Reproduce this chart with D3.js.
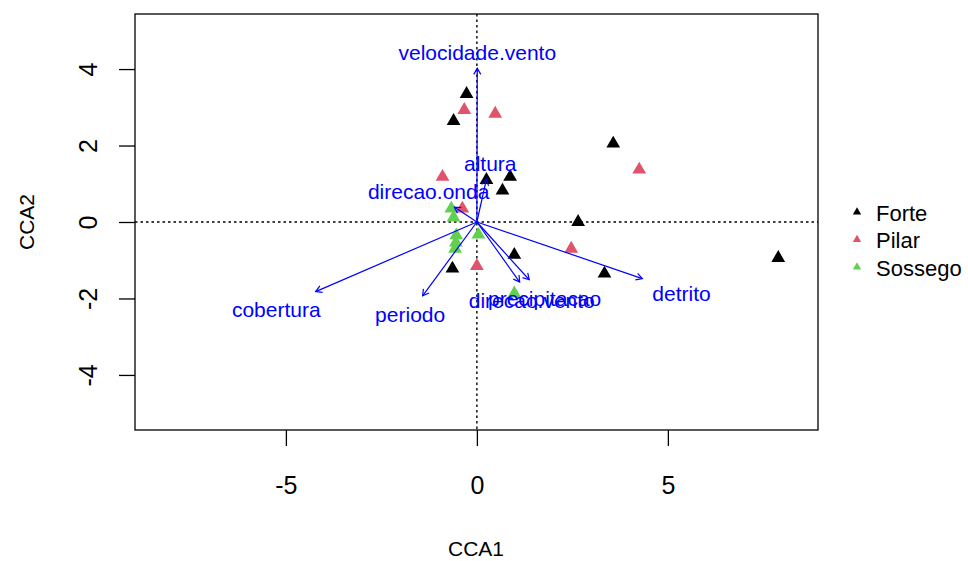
<!DOCTYPE html>
<html>
<head>
<meta charset="utf-8">
<script src="https://cdn.jsdelivr.net/npm/d3@7"></script>
<style>
  html, body { margin: 0; padding: 0; background: #fff; }
  svg { display: block; font-family: "Liberation Sans", Arial, sans-serif; }
</style>
</head>
<body>
<svg id="chart" width="968" height="561"></svg>
<script>
// ---------- data ----------
const groups = ["Forte", "Pilar", "Sossego"];
const groupColors = ["#000000", "#DF536B", "#61D04F"];

const forteX = [-0.27, -0.61, 3.57, 0.25, 0.87, 0.67, 2.65, 0.98, -0.64, 3.34, 7.89];
const forteY = [3.35, 2.64, 2.05, 1.10, 1.18, 0.82, 0.00, -0.86, -1.22, -1.35, -0.94];

const pilarX = [-0.33, 0.48, 4.25, -0.90, -0.38, 2.47, 0.00];
const pilarY = [2.93, 2.83, 1.37, 1.18, 0.35, -0.70, -1.15];

const sossegoX = [-0.67, -0.61, -0.54, -0.55, -0.57, 0.04, 0.98];
const sossegoY = [0.35, 0.12, -0.35, -0.54, -0.70, -0.33, -1.87];

const envNames = ["velocidade.vento", "altura", "direcao.onda", "cobertura", "periodo", "direcao.vento", "precipitacao", "detrito"];
const envX = [0.01, 0.25, -0.59, -4.22, -1.42, 1.12, 1.37, 4.33];
const envY = [4.02, 1.12, 0.39, -1.82, -1.93, -1.57, -1.51, -1.48];

const xTicks = [-5, 0, 5];
const yTicks = [-4, -2, 0, 2, 4];
const xTitle = "CCA1";
const yTitle = "CCA2";

// ---------- layout ----------
const svg = d3.select("#chart");
const box = { left: 135, right: 818, top: 14, bottom: 430 };

const x = d3.scaleLinear().domain([-8.95, 8.93]).range([box.left, box.right]);
const y = d3.scaleLinear().domain([-5.44, 5.44]).range([box.bottom, box.top]);
const fmt = d => String(d);

// reference dotted lines
svg.append("line")
  .attr("x1", box.left).attr("x2", box.right)
  .attr("y1", y(0)).attr("y2", y(0))
  .attr("stroke", "#000").attr("stroke-width", 1.4)
  .attr("stroke-dasharray", "2.5,3");
svg.append("line")
  .attr("x1", x(0)).attr("x2", x(0))
  .attr("y1", box.top).attr("y2", box.bottom)
  .attr("stroke", "#000").attr("stroke-width", 1.4)
  .attr("stroke-dasharray", "2.5,3");

// points
const sites = [];
[[forteX, forteY], [pilarX, pilarY], [sossegoX, sossegoY]].forEach((arr, gi) => {
  arr[0].forEach((vx, i) => sites.push({ g: gi, x: vx, y: arr[1][i] }));
});

const tri = d3.symbol().type(d3.symbolTriangle).size(82);
svg.append("g").selectAll("path")
  .data(sites)
  .join("path")
  .attr("d", tri)
  .attr("transform", d => `translate(${x(d.x)},${y(d.y)})`)
  .attr("fill", d => groupColors[d.g]);

// biplot arrows
const env = envNames.map((n, i) => ({ name: n, x: envX[i], y: envY[i] }));
const ox = x(0), oy = y(0);
const ag = svg.append("g").attr("stroke", "#0000FF").attr("stroke-width", 1.2).attr("fill", "none");
env.forEach(d => {
  const tx = x(d.x), ty = y(d.y);
  const ang = Math.atan2(ty - oy, tx - ox);
  const L = 7, a = Math.PI / 6;
  ag.append("line").attr("x1", ox).attr("y1", oy).attr("x2", tx).attr("y2", ty);
  ag.append("path").attr("d",
    `M${tx - L * Math.cos(ang - a)},${ty - L * Math.sin(ang - a)}L${tx},${ty}L${tx - L * Math.cos(ang + a)},${ty - L * Math.sin(ang + a)}`);
});

// arrow labels: placed beyond arrow head so the label box touches it
const lg = svg.append("g").attr("fill", "#0000FF").attr("font-size", "21px");
env.forEach(d => {
  const t = lg.append("text").text(d.name).attr("text-anchor", "middle").attr("dy", "0.35em");
  const w = t.node().getComputedTextLength();
  const dx = x(d.x) - ox, dy = y(d.y) - oy;
  const hw = w / 2 + 10, hh = 17;
  const k = Math.min(Math.abs(dx) > 1e-6 ? hw / Math.abs(dx) : Infinity,
                     Math.abs(dy) > 1e-6 ? hh / Math.abs(dy) : Infinity);
  t.attr("x", ox + dx * (1 + k)).attr("y", oy + dy * (1 + k) + 1.5);
});

// box
svg.append("rect")
  .attr("x", box.left).attr("y", box.top)
  .attr("width", box.right - box.left).attr("height", box.bottom - box.top)
  .attr("fill", "none").attr("stroke", "#000").attr("stroke-width", 1.3);

// axes
const xAxis = svg.append("g")
  .attr("transform", `translate(0,${box.bottom})`)
  .call(d3.axisBottom(x).tickValues(xTicks).tickSize(16).tickPadding(30).tickFormat(fmt));
xAxis.select(".domain").remove();
xAxis.selectAll("line").attr("stroke", "#000").attr("stroke-width", 1.3);
xAxis.selectAll("text").attr("font-size", "25px").attr("fill", "#000")
  .attr("font-family", "'Liberation Sans', Arial, sans-serif");

const yAxis = svg.append("g")
  .attr("transform", `translate(${box.left},0)`)
  .call(d3.axisLeft(y).tickValues(yTicks).tickSize(16).tickFormat(fmt));
yAxis.select(".domain").remove();
yAxis.selectAll("line").attr("stroke", "#000").attr("stroke-width", 1.3);
yAxis.selectAll("text")
  .attr("font-size", "25px").attr("fill", "#000")
  .attr("font-family", "'Liberation Sans', Arial, sans-serif")
  .attr("text-anchor", "middle")
  .attr("x", 0).attr("y", 0).attr("dy", "0.35em")
  .attr("transform", `translate(${88 - box.left},0) rotate(-90)`);

// axis titles
svg.append("text").text(xTitle)
  .attr("x", 476).attr("y", 549).attr("dy", "0.35em")
  .attr("text-anchor", "middle").attr("font-size", "21px").attr("fill", "#000");
svg.append("text").text(yTitle)
  .attr("transform", `translate(27,${y(0)}) rotate(-90)`)
  .attr("dy", "0.35em")
  .attr("text-anchor", "middle").attr("font-size", "21px").attr("fill", "#000");

// legend
const leg = svg.append("g").attr("transform", "translate(857,213)");
const legTri = d3.symbol().type(d3.symbolTriangle).size(30);
groups.forEach((g, i) => {
  const row = leg.append("g").attr("transform", `translate(0,${i * 27.5})`);
  row.append("path").attr("d", legTri).attr("fill", groupColors[i]).attr("transform", "translate(0,-1)");
  row.append("text").text(g).attr("x", 19).attr("dy", "0.35em")
    .attr("font-size", "22px").attr("fill", "#000");
});
</script>
</body>
</html>
